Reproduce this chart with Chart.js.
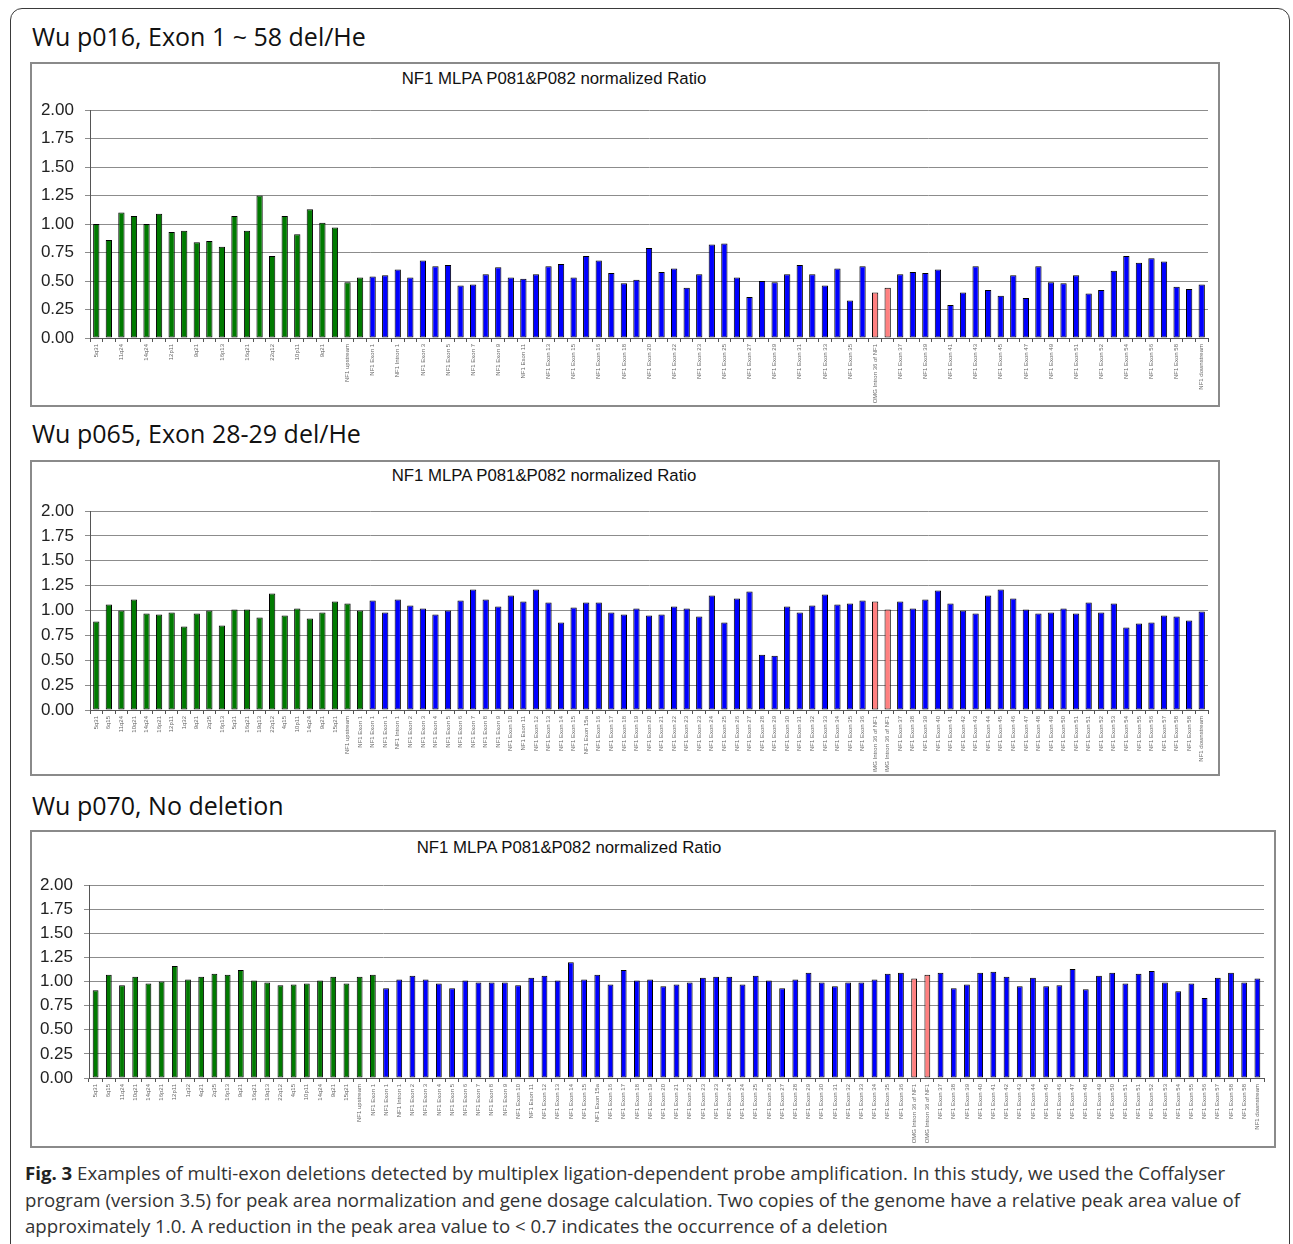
<!DOCTYPE html>
<html>
<head>
<meta charset="utf-8">
<script src="https://cdn.jsdelivr.net/npm/chart.js@4.4.0/dist/chart.umd.min.js"></script>
<style>
  html, body { margin: 0; padding: 0; background: #fff; }
  body { width: 1293px; height: 1244px; position: relative; overflow: hidden; font-family: "Open Sans", sans-serif; }
  .outer { position: absolute; left: 10px; top: 8px; width: 1280px; height: 1270px; border: 1.5px solid #3a3a3a; border-radius: 12px; box-sizing: border-box; }
  .head { position: absolute; left: 32px; font-size: 25px; line-height: 25px; color: #111; white-space: nowrap; }
  .frame { position: absolute; border: 2px solid #8a8a8a; box-sizing: border-box; }
  .ctitle { position: absolute; font-family: Arial, "Liberation Sans", sans-serif; font-size: 16.8px; line-height: 18px; color: #111; white-space: nowrap; transform: translateX(-50%); }
  canvas { position: absolute; }
  .caption { position: absolute; left: 25px; top: 1160px; font-size: 18.65px; line-height: 26.5px; color: #333; white-space: nowrap; }
  .caption b { color: #222; }
</style>
</head>
<body>
<div class="outer"></div>

<div class="head" style="top:24px">Wu p016, Exon 1 ~ 58 del/He</div>
<div class="frame" style="left:30px; top:62px; width:1190px; height:345px"></div>
<div class="ctitle" style="left:554px; top:70px">NF1 MLPA P081&amp;P082 normalized Ratio</div>
<canvas id="p016" width="1190" height="345" style="left:30px; top:62px"></canvas>

<div class="head" style="top:421px">Wu p065, Exon 28-29 del/He</div>
<div class="frame" style="left:30px; top:460px; width:1190px; height:316px"></div>
<div class="ctitle" style="left:544px; top:467px">NF1 MLPA P081&amp;P082 normalized Ratio</div>
<canvas id="p065" width="1190" height="316" style="left:30px; top:460px"></canvas>

<div class="head" style="top:793px">Wu p070, No deletion</div>
<div class="frame" style="left:30px; top:830px; width:1246px; height:318px"></div>
<div class="ctitle" style="left:569px; top:839px">NF1 MLPA P081&amp;P082 normalized Ratio</div>
<canvas id="p070" width="1246" height="318" style="left:30px; top:830px"></canvas>

<div class="caption"><b>Fig. 3</b> Examples of multi-exon deletions detected by multiplex ligation-dependent probe amplification. In this study, we used the Coffalyser<br>program (version 3.5) for peak area normalization and gene dosage calculation. Two copies of the genome have a relative peak area value of<br>approximately 1.0. A reduction in the peak area value to &lt; 0.7 indicates the occurrence of a deletion</div>

<script>
// reference probes (green) come first, then the NF1 probes
const refProbes = ['5q31','6q15','11q24','10q21','14q24','16p21','12p11','1q32','9q21','2q35',
  '16p13','5q31','16q21','19q13','22q12','4q15','10p11','14q24','9q21','15q21']
const refProbesB = ['5q31','6q15','11q24','10q21','14q24','16p21','12p11','1q32','4q21','2q35',
  '16p13','9q21','16q21','19q13','22q12','4q15','10p11','14q24','9q21','15q21']

const nf1Probes = ['NF1 upstream','NF1 Exon 1','NF1 Exon 1','NF1 Exon 1','NF1 Intron 1',
  'NF1 Exon 2','NF1 Exon 3','NF1 Exon 4','NF1 Exon 5','NF1 Exon 6','NF1 Exon 7','NF1 Exon 8',
  'NF1 Exon 9','NF1 Exon 10','NF1 Exon 11','NF1 Exon 12','NF1 Exon 13','NF1 Exon 14','NF1 Exon 15',
  'NF1 Exon 15a','NF1 Exon 16','NF1 Exon 17','NF1 Exon 18','NF1 Exon 19','NF1 Exon 20','NF1 Exon 21',
  'NF1 Exon 22','NF1 Exon 23','NF1 Exon 23','NF1 Exon 24','NF1 Exon 25','NF1 Exon 26','NF1 Exon 27',
  'NF1 Exon 28','NF1 Exon 29','NF1 Exon 30','NF1 Exon 31','NF1 Exon 32','NF1 Exon 33','NF1 Exon 34',
  'NF1 Exon 35','NF1 Exon 36','OMG Intron 36 of NF1','OMG Intron 36 of NF1','NF1 Exon 37','NF1 Exon 38',
  'NF1 Exon 39','NF1 Exon 40','NF1 Exon 41','NF1 Exon 42','NF1 Exon 43','NF1 Exon 44','NF1 Exon 45',
  'NF1 Exon 46','NF1 Exon 47','NF1 Exon 48','NF1 Exon 49','NF1 Exon 50','NF1 Exon 51','NF1 Exon 51',
  'NF1 Exon 52','NF1 Exon 53','NF1 Exon 54','NF1 Exon 55','NF1 Exon 56','NF1 Exon 57','NF1 Exon 58',
  'NF1 Exon 58','NF1 downstream']
const nf1ProbesB = ['NF1 upstream','NF1 Exon 1','NF1 Exon 1','NF1 Intron 1',
  'NF1 Exon 2','NF1 Exon 3','NF1 Exon 4','NF1 Exon 5','NF1 Exon 6','NF1 Exon 7','NF1 Exon 8',
  'NF1 Exon 9','NF1 Exon 10','NF1 Exon 11','NF1 Exon 12','NF1 Exon 13','NF1 Exon 14','NF1 Exon 15',
  'NF1 Exon 15a','NF1 Exon 16','NF1 Exon 17','NF1 Exon 18','NF1 Exon 19','NF1 Exon 20','NF1 Exon 21',
  'NF1 Exon 22','NF1 Exon 23','NF1 Exon 23','NF1 Exon 24','NF1 Exon 24','NF1 Exon 25','NF1 Exon 26',
  'NF1 Exon 27','NF1 Exon 28','NF1 Exon 29','NF1 Exon 30','NF1 Exon 31','NF1 Exon 32','NF1 Exon 33',
  'NF1 Exon 34','NF1 Exon 35','NF1 Exon 36','OMG Intron 36 of NF1','OMG Intron 36 of NF1','NF1 Exon 37',
  'NF1 Exon 38','NF1 Exon 39','NF1 Exon 40','NF1 Exon 41','NF1 Exon 42','NF1 Exon 43','NF1 Exon 44',
  'NF1 Exon 45','NF1 Exon 46','NF1 Exon 47','NF1 Exon 48','NF1 Exon 49','NF1 Exon 50','NF1 Exon 51',
  'NF1 Exon 51','NF1 Exon 52','NF1 Exon 53','NF1 Exon 54','NF1 Exon 55','NF1 Exon 56','NF1 Exon 57',
  'NF1 Exon 58','NF1 Exon 58','NF1 downstream']

const labelsA = refProbes.concat(nf1Probes)
const labelsB = refProbesB.concat(nf1ProbesB)

// normalized ratios
const p016Values = [1.00,0.86,1.10,1.07,1.00,1.09,0.93,0.94,0.84,0.85,0.80,1.07,0.94,1.25,0.72,1.07,0.91,1.13,1.01,0.97,
  0.49,0.53,0.54,0.55,0.60,0.53,0.68,0.63,0.64,0.46,0.47,0.56,0.62,0.53,0.52,0.56,0.63,0.65,0.53,0.72,0.68,0.57,0.48,0.51,
  0.79,0.58,0.61,0.44,0.56,0.82,0.83,0.53,0.36,0.50,0.49,0.56,0.64,0.56,0.46,0.61,0.33,0.63,0.40,0.44,
  0.56,0.58,0.57,0.60,0.29,0.40,0.63,0.42,0.37,0.55,0.35,0.63,0.49,0.48,0.55,0.39,0.42,0.59,0.72,0.66,
  0.70,0.67,0.45,0.43,0.47]
const p065Values = [0.89,1.06,1.00,1.11,0.97,0.96,0.98,0.84,0.97,1.00,0.85,1.01,1.01,0.93,1.17,0.95,1.02,0.92,0.98,1.09,
  1.07,1.00,1.10,0.98,1.11,1.05,1.02,0.96,1.00,1.10,1.21,1.11,1.04,1.15,1.09,1.21,1.08,0.88,1.03,1.08,1.08,0.98,0.96,1.02,
  0.95,0.96,1.04,1.02,0.94,1.15,0.88,1.12,1.19,0.555,0.545,1.04,0.98,1.05,1.16,1.06,1.07,1.10,1.09,1.01,
  1.09,1.02,1.11,1.20,1.07,1.00,0.97,1.15,1.21,1.12,1.01,0.97,0.98,1.02,0.97,1.08,0.98,1.07,0.83,0.87,
  0.88,0.95,0.94,0.90,0.99]
const p070Values = [0.91,1.07,0.96,1.05,0.98,1.00,1.16,1.02,1.05,1.08,1.07,1.12,1.01,0.99,0.96,0.97,0.98,1.01,1.05,0.98,
  1.05,1.07,0.93,1.02,1.06,1.02,0.98,0.93,1.01,0.99,0.99,0.99,0.96,1.04,1.06,1.01,1.20,1.02,1.07,0.97,1.12,1.01,1.02,0.95,
  0.97,0.99,1.04,1.05,1.05,0.97,1.06,1.01,0.93,1.02,1.09,0.99,0.95,0.99,0.99,1.02,1.08,1.09,1.03,1.07,
  1.09,0.93,0.97,1.09,1.10,1.05,0.95,1.04,0.95,0.96,1.13,0.92,1.06,1.09,0.98,1.08,1.11,0.99,0.90,0.98,
  0.83,1.04,1.09,0.99,1.03]

const greenCount = 22   // reference probes + upstream + first exon 1 probe are drawn green

function barColors(labels) {
  return labels.map(function(l, i) {
    if (l.indexOf('OMG') === 0) return '#ff8080'
    return i < greenCount ? '#007a00' : '#0000ff'
  })
}

function makeChart(id, labels, values, cfg) {
  new Chart(document.getElementById(id), {
    type: 'bar',
    data: {
      labels: labels,
      datasets: [{
        data: values,
        backgroundColor: barColors(labels),
        borderColor: '#000',
        borderWidth: 1,
        borderSkipped: false,
        barPercentage: cfg.bar,
        categoryPercentage: 1
      }]
    },
    options: {
      responsive: false,
      animation: false,
      events: [],
      layout: { padding: { top: cfg.top, right: cfg.right, bottom: cfg.bottom, left: 0 } },
      plugins: { legend: { display: false }, tooltip: { enabled: false } },
      scales: {
        x: {
          grid: { display: true, drawOnChartArea: false, tickLength: 4, color: '#555' },
          border: { color: '#555' },
          ticks: {
            autoSkip: false, minRotation: 90, maxRotation: 90, padding: 2,
            font: { size: 6, family: 'Arial' }, color: '#666',
            callback: function(v, i) { return i % cfg.every === 0 ? labels[i] : '' }
          },
          afterFit: function(s) { s.height = cfg.xh }
        },
        y: {
          min: 0, max: 2,
          ticks: {
            stepSize: 0.25, padding: 11, color: '#222',
            font: { size: 17, family: 'Arial' },
            callback: function(v) { return v.toFixed(2) }
          },
          grid: { color: '#8c8c8c', tickLength: 5 },
          border: { color: '#555' },
          afterFit: function(s) { s.width = cfg.yw }
        }
      }
    }
  })
}

makeChart('p016', labelsA, p016Values, { top: 48, right: 12, bottom: 4, xh: 65, yw: 60, bar: 0.5, every: 2 })
makeChart('p065', labelsA, p065Values, { top: 51, right: 12, bottom: 4, xh: 62, yw: 60, bar: 0.5, every: 1 })
makeChart('p070', labelsB, p070Values, { top: 55, right: 12, bottom: 4, xh: 66, yw: 59, bar: 0.44, every: 1 })
</script>
</body>
</html>
